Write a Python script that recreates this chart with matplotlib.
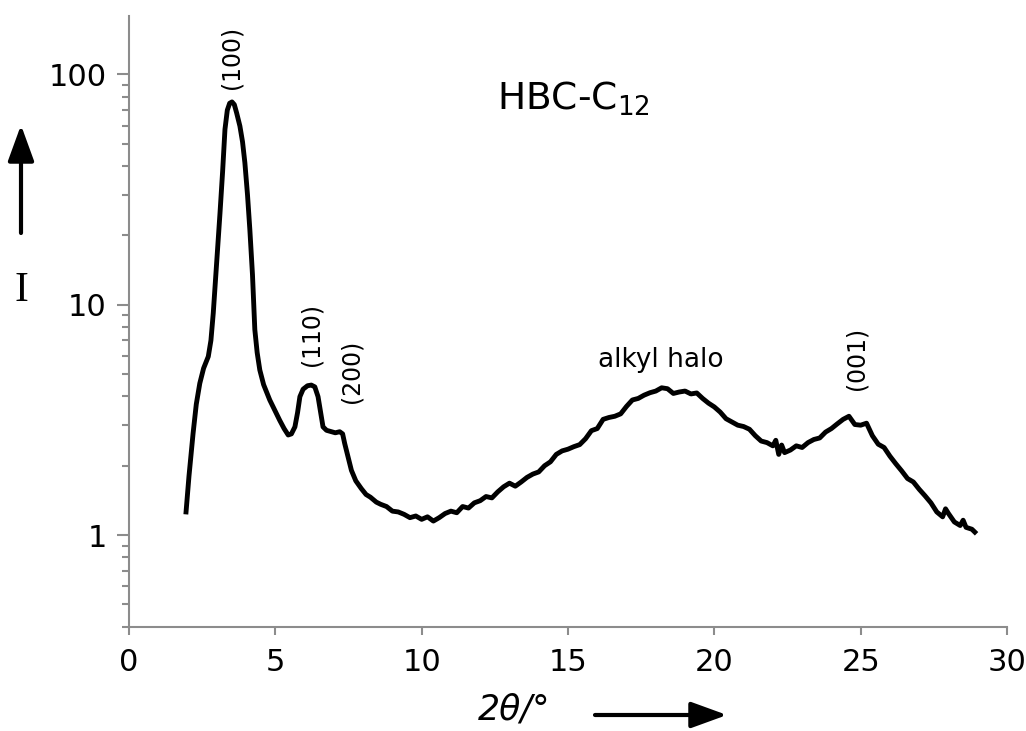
import matplotlib
matplotlib.use('Agg')
import matplotlib.pyplot as plt
import numpy as np

tt_peaks=[1.95,2.05,2.19,2.3,2.42,2.55,2.71,2.8,2.88,2.95,3.03,3.11,3.2,3.28,3.36,3.44,3.52,3.6,3.68,3.79,
          3.88,3.96,4.05,4.13,4.22,4.30,4.38,4.47,4.6,4.81,5.0,5.15,5.3,5.44,5.55,5.67,5.76,5.84,5.95,6.1,
          6.23,6.35,6.46,6.55,6.63,6.75,6.92,7.05,7.2,7.3,7.37,7.48,7.6,7.75,7.94,8.1,8.25,8.45]
I_peaks=[1.26,1.8,2.76,3.7,4.56,5.3,5.96,7.0,9.2,12.5,17.5,25,38,57.8,70,75,76,74,68,59.7,
         51,41.4,30,21.2,13.5,7.8,6.2,5.21,4.5,3.86,3.45,3.15,2.9,2.72,2.75,2.95,3.4,3.99,4.3,4.45,
         4.48,4.4,3.99,3.4,2.95,2.85,2.81,2.78,2.81,2.75,2.5,2.2,1.91,1.72,1.59,1.5,1.46,1.39]

tt_halo=[8.6,8.8,9.0,9.2,9.4,9.6,9.8,10.0,10.2,10.4,10.6,10.8,11.0,11.2,11.4,11.6,11.8,12.0,12.2,12.4,
         12.6,12.8,13.0,13.2,13.4,13.6,13.8,14.0,14.2,14.4,14.6,14.8,15.0,15.2,15.4,15.6,15.8,16.0,16.2,16.4,
         16.6,16.8,17.0,17.2,17.4,17.6,17.8,18.0,18.2,18.4,18.6,18.8,19.0,19.2,19.4,19.6,19.8,20.0,20.2,20.4,
         20.6,20.8,21.0,21.2,21.4,21.6,21.8,22.0,22.1,22.2,22.3,22.4,22.6,22.8,23.0,23.2,23.4,23.6,23.8,24.0,
         24.2,24.4,24.6,24.8,25.0,25.2,25.4,25.6,25.8,26.0,26.2,26.4,26.6,26.8,27.0,27.2,27.4,27.6,27.8,27.9,
         28.0,28.2,28.4,28.5,28.6,28.8,28.9]
I_halo=[1.36,1.33,1.27,1.26,1.23,1.19,1.21,1.17,1.20,1.15,1.19,1.24,1.27,1.25,1.33,1.31,1.38,1.41,1.47,1.45,
        1.54,1.62,1.68,1.63,1.70,1.78,1.84,1.88,2.00,2.08,2.24,2.32,2.36,2.42,2.47,2.62,2.84,2.90,3.18,3.24,
        3.28,3.36,3.62,3.86,3.92,4.05,4.15,4.22,4.36,4.32,4.12,4.18,4.22,4.10,4.14,3.92,3.74,3.60,3.42,3.20,
        3.10,3.00,2.96,2.88,2.70,2.56,2.52,2.44,2.58,2.24,2.46,2.28,2.34,2.44,2.40,2.52,2.60,2.64,2.80,2.90,
        3.04,3.18,3.28,3.02,3.00,3.06,2.70,2.48,2.40,2.20,2.04,1.90,1.76,1.70,1.58,1.48,1.38,1.26,1.20,1.30,
        1.24,1.14,1.10,1.16,1.08,1.06,1.03]

labels=['(100)','(110)','(200)','(001)']
lab_x=[3.52,6.22,7.61,24.86]
lab_y=[119,7.4,5.16,5.82]

tt=np.array(tt_peaks+tt_halo)
I=np.array(I_peaks+I_halo)

grey='#8c8c8c'
fig=plt.figure(figsize=(10.26,7.31),dpi=100)
ax=fig.add_axes([0.1257,0.1427,0.8558,0.8358])
ax.plot(tt,I,'k',lw=3.5,solid_joinstyle='round')
ax.set_yscale('log')
ax.set_xlim(0,30)
ax.set_ylim(0.4,180)
ax.set_xticks([0,5,10,15,20,25,30])
ax.set_yticks([1,10,100])
ax.set_yticklabels(['1','10','100'])
ax.yaxis.set_minor_formatter(matplotlib.ticker.NullFormatter())
for s in ['top','right']:
    ax.spines[s].set_visible(False)
for s in ['left','bottom']:
    ax.spines[s].set_color(grey)
    ax.spines[s].set_linewidth(1.5)
ax.tick_params(which='both',colors=grey,labelcolor='k',width=1.5,labelsize=22)
ax.tick_params(axis='y',which='major',length=9,pad=7)
ax.tick_params(axis='y',which='minor',length=5)
ax.tick_params(axis='x',which='major',length=6,pad=9)

for t,x,y in zip(labels,lab_x,lab_y):
    ax.text(x,y,t,rotation=90,ha='center',va='center',fontsize=17)
ax.text(16.02,5.39,'alkyl halo',fontsize=19,ha='left',va='baseline')
ax.text(12.57,70.6,'HBC-C$_{12}$',fontsize=27,ha='left',va='baseline')

# axis labels with arrows
fig.text(0.0205,0.602,'I',fontsize=30,family='Liberation Serif',ha='center',va='center')
fig.text(0.501,0.03,'2θ/°',fontsize=25,style='italic',ha='center',va='center')
ap=dict(arrowstyle='-|>,head_length=1.1,head_width=0.4',mutation_scale=20,lw=3,color='k',shrinkA=0,shrinkB=0)
ax.annotate('',xy=(21,606),xytext=(21,498),xycoords='figure pixels',textcoords='figure pixels',arrowprops=ap,annotation_clip=False)
ax.annotate('',xy=(727,16),xytext=(595,16),xycoords='figure pixels',textcoords='figure pixels',arrowprops=ap,annotation_clip=False)

plt.savefig('out.png',dpi=100)
